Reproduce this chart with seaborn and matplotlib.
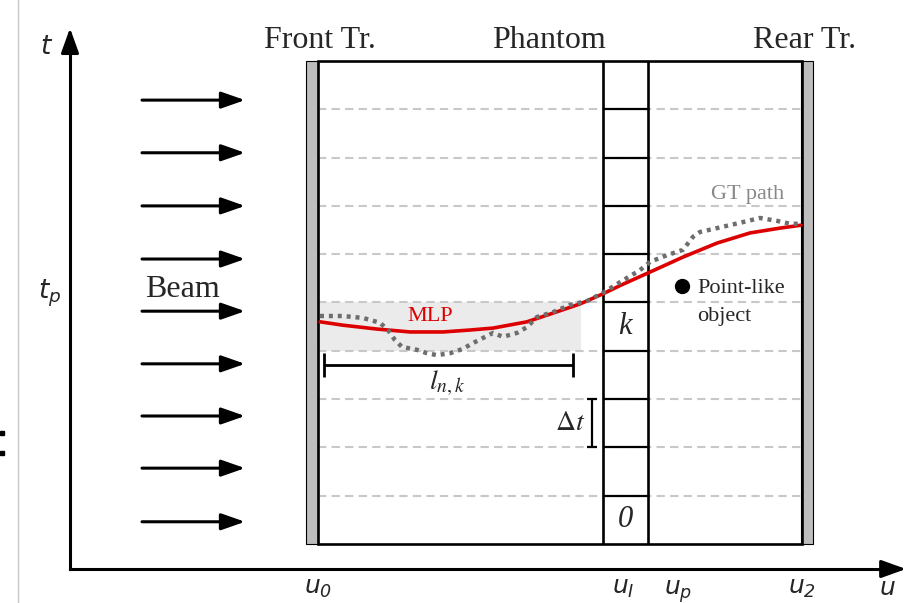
import matplotlib
matplotlib.use("Agg")
import matplotlib.pyplot as plt
import seaborn as sns
from matplotlib.patches import Rectangle

# ---- diagram values (u in detector units, t in cell rows) ----
U_TICKS = [318, 623, 678, 802]
U_LABELS = [r"$u_0$", r"$u_I$", r"$u_p$", r"$u_2$"]
T_P = 5.30
N_ROWS = 10
GRID_T = [1, 2, 3, 4, 5, 6, 7, 8, 9]
PHANTOM_U = [603, 648]
BEAM_T = [0.46, 1.57, 2.65, 3.73, 4.82, 5.90, 7.00, 8.10, 9.19]
BEAM_U = [142, 245]
HEADERS = ["Front Tr.", "Phantom", "Rear Tr."]
HEADER_U = [320, 549, 805]

# most likely path (red)
MLP_U = [320, 343, 377, 410, 443, 470, 493, 527, 553, 580, 603, 620, 650, 683, 717, 750, 780, 801]
MLP_T = [4.60, 4.53, 4.45, 4.39, 4.39, 4.43, 4.47, 4.60, 4.78, 4.97, 5.18, 5.35, 5.63, 5.94,
         6.23, 6.44, 6.54, 6.60]

# ground truth path (dotted grey)
GT_U = [320, 343, 363, 380, 388, 395, 402, 417, 427, 437, 450, 463, 473, 493, 503, 517, 527,
        537, 553, 570, 587, 603, 620, 640, 650, 667, 683, 693, 700, 717, 740, 760, 777, 790, 801]
GT_T = [4.72, 4.72, 4.68, 4.58, 4.43, 4.22, 4.08, 4.02, 3.95, 3.91, 3.95, 4.04, 4.16, 4.37,
        4.29, 4.37, 4.49, 4.70, 4.80, 4.95, 5.03, 5.20, 5.42, 5.67, 5.84, 5.98, 6.09, 6.36,
        6.46, 6.54, 6.65, 6.75, 6.69, 6.63, 6.63]

SHADE_U = [318, 581]
K_ROW = 4
DT_ROW = 2
LNK_U = [324, 573]
LNK_T = 3.71
POINT_U, POINT_T = 682, 5.34

sns.set_theme(style="white")
plt.rcParams["font.family"] = ["Liberation Serif", "DejaVu Serif"]
plt.rcParams["mathtext.fontset"] = "custom"
plt.rcParams["mathtext.rm"] = "DejaVu Sans:italic"
plt.rcParams["mathtext.it"] = "DejaVu Sans:italic"

fig = plt.figure(figsize=(9.08, 6.03), dpi=100)
ax = fig.add_axes([70 / 908, 34 / 603, 838 / 908, 569 / 603])
ax.set_xlim(70, 908)
ax.set_ylim(-0.518, 11.263)
ax.patch.set_alpha(0)
y0 = -0.518

# axes as arrows
for s in ["top", "right"]:
    ax.spines[s].set_visible(False)
for s in ["left", "bottom"]:
    ax.spines[s].set_linewidth(2.2)
    ax.spines[s].set_color("black")
ax.spines["bottom"].set_bounds(70, 890)
ax.spines["left"].set_bounds(y0, 10.3)
head = dict(arrowstyle="-|>,head_length=1.25,head_width=0.45", lw=2.2, color="black",
            shrinkA=0, shrinkB=0)
ax.annotate("", xy=(906, y0), xytext=(886, y0), arrowprops=head, annotation_clip=False)
ax.annotate("", xy=(70, 10.68), xytext=(70, 10.25), arrowprops=head, annotation_clip=False)

ax.set_xticks(U_TICKS, U_LABELS, fontsize=18)
ax.set_yticks([T_P], [r"$t_p$"], fontsize=19)
ax.tick_params(axis="both", direction="inout", length=12, width=2, color="black", pad=0.5)
ax.text(887, -0.93, r"$u$", fontsize=18, ha="center", va="center")
ax.text(47, 10.27, r"$t$", fontsize=19, ha="center", va="center")

# shaded cell row and grid
ax.fill_between(SHADE_U, K_ROW, K_ROW + 1, color="#ebebeb", lw=0, zorder=1)
ax.hlines(GRID_T, U_TICKS[0], U_TICKS[-1], colors="#c8c8c8", lw=1.5,
          linestyles=(0, (4, 2.5)), zorder=2)

# trackers and box
ax.add_patch(Rectangle((306, 0), 12, N_ROWS, facecolor="#bdbdbd", edgecolor="black", lw=0.8, zorder=3))
ax.add_patch(Rectangle((801, 0), 12, N_ROWS, facecolor="#bdbdbd", edgecolor="black", lw=0.8, zorder=3))
ax.add_patch(Rectangle((U_TICKS[0], 0), U_TICKS[-1] - U_TICKS[0], N_ROWS, fill=False,
                       edgecolor="black", lw=1.9, zorder=4))
ax.vlines(PHANTOM_U, 0, N_ROWS, colors="black", lw=1.9, zorder=4)
ax.hlines(GRID_T, PHANTOM_U[0], PHANTOM_U[1], colors="black", lw=1.6, zorder=4)

# beam
for t in BEAM_T:
    ax.annotate("", xy=(BEAM_U[1], t), xytext=(BEAM_U[0], t),
                arrowprops=dict(arrowstyle="-|>,head_length=1.2,head_width=0.42", lw=2.2,
                                color="black", shrinkA=0, shrinkB=0))
ax.text(182, 5.26, "Beam", fontsize=23, ha="center", va="center")

# paths
sns.lineplot(x=MLP_U, y=MLP_T, sort=False, estimator=None, color="#dd0000", lw=2.6,
             ax=ax, zorder=5)
sns.lineplot(x=GT_U, y=GT_T, sort=False, estimator=None, color="#6e6e6e", lw=3.2,
             linestyle=(0, (0.9, 1.1)), ax=ax, zorder=6)
ax.text(430, 4.70, "MLP", color="#dd0000", fontsize=16, ha="center", va="center")
ax.text(748, 7.23, "GT path", color="#888888", fontsize=16, ha="center", va="center")

# point-like object
ax.plot(POINT_U, POINT_T, "o", color="black", ms=10, zorder=6)
ax.text(697, 5.30, "Point-like", fontsize=16, ha="left", va="center")
ax.text(697, 4.70, "object", fontsize=16, ha="left", va="center")

# headers
for name, u in zip(HEADERS, HEADER_U):
    ax.text(u, 10.43, name, fontsize=23, ha="center", va="center")

# cell labels and brackets
ax.text(625, K_ROW + 0.5, "k", fontsize=22, style="italic", ha="center", va="center")
ax.text(625, 0.5, "0", fontsize=22, style="italic", ha="center", va="center")
ax.vlines(592, DT_ROW, DT_ROW + 1, colors="black", lw=1.6)
ax.hlines([DT_ROW, DT_ROW + 1], 587, 597, colors="black", lw=1.6)
ax.text(570, DT_ROW + 0.5, r"$\Delta t$", fontsize=20, ha="center", va="center",
        math_fontfamily="stix")
ax.hlines(LNK_T, LNK_U[0], LNK_U[1], colors="black", lw=2)
ax.vlines(LNK_U, LNK_T - 0.25, LNK_T + 0.25, colors="black", lw=2)
ax.text(447, 3.33, r"$l_{n,k}$", fontsize=20, ha="center", va="center", math_fontfamily="stix")

# page edge remnants at the left
ax.plot([18, 18], [y0 - 1, 11.3], color="#c8c8c8", lw=1, clip_on=False)
ax.plot([2, 2], [2.30, 1.89], "s", color="black", ms=3, clip_on=False)

fig.savefig("out.png", dpi=100)
